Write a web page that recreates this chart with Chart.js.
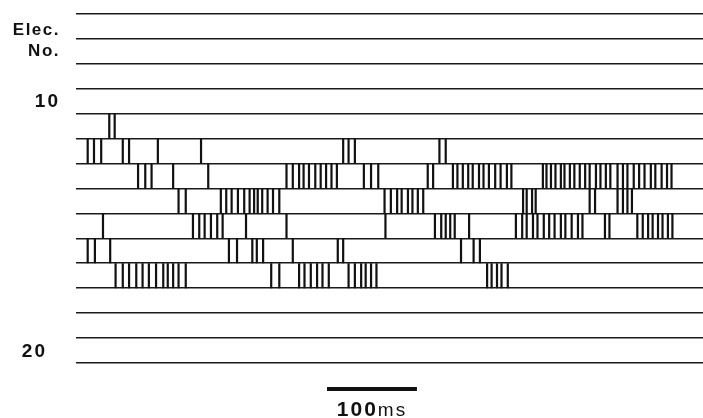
<!DOCTYPE html>
<html>
<head>
<meta charset="utf-8">
<script src="https://cdn.jsdelivr.net/npm/chart.js@4.4.1/dist/chart.umd.min.js"></script>
<style>
html,body{margin:0;padding:0;background:#fff;}
#wrap{width:703px;height:418px;position:relative;}
</style>
</head>
<body>
<div id="wrap"><canvas id="graficoRaster"></canvas></div>
<script>

// =====================================
// DADOS (tempos dos disparos em ms)
// =====================================

const eletrodos = [7,8,9,10,11,12,13,14,15,16,17,18,19,20];

const rotulosEletrodo = {7:"Elec.", 8:"No.", 10:"10", 20:"20"};

const spikes11 = [37, 43];

const spikes12 = [13, 20, 28, 52, 59, 91, 139, 297, 303, 310, 404, 411];

const spikes13 = [69, 77, 84, 108, 147, 234, 241, 248, 253, 259, 266, 272, 278, 284, 290,
    320, 328, 336, 391, 397, 419, 424, 430, 436, 441, 448, 453, 459, 466, 472, 479, 484,
    519, 523, 528, 533, 539, 543, 549, 554, 560, 566, 571, 578, 583, 589, 594,
    602, 608, 613, 620, 626, 632, 639, 644, 651, 657, 662];

const spikes14 = [114, 122, 161, 167, 173, 180, 187, 193, 198, 202, 207, 213, 219, 226,
    343, 350, 357, 362, 369, 374, 380, 386, 497, 501, 507, 511, 571, 577, 602, 608, 613, 618];

const spikes15 = [30, 130, 137, 143, 150, 157, 163, 189, 234, 344, 399, 406, 411, 416, 421, 437,
    489, 496, 501, 508, 513, 520, 526, 532, 539, 544, 551, 558, 563, 588, 593,
    624, 630, 636, 641, 647, 652, 658, 663];

const spikes16 = [13, 21, 38, 170, 179, 196, 201, 208, 241, 291, 297, 428, 442, 449];

const spikes17 = [44, 52, 59, 67, 74, 81, 89, 97, 102, 108, 114, 122, 217, 226,
    248, 254, 261, 268, 274, 281, 303, 310, 317, 322, 328, 334, 457, 462, 468, 473, 480];

const spikesPorEletrodo = {11:spikes11, 12:spikes12, 13:spikes13, 14:spikes14,
    15:spikes15, 16:spikes16, 17:spikes17};

const tempoMax = 697;
const barraInicio = 279;
const barraDuracao = 100;


// =====================================
// SEGMENTOS (um traço vertical por disparo)
// =====================================

function segmentos(tempos, eletrodo){

    const pts = [];

    tempos.forEach(t=>{
        pts.push({x:t, y:eletrodo-0.5});
        pts.push({x:t, y:eletrodo+0.5});
        pts.push({x:t, y:null});
    });

    return pts;

}

const datasets =
Object.keys(spikesPorEletrodo).map(e=>({

    data: segmentos(spikesPorEletrodo[e], Number(e)),
    borderColor:"#111",
    borderWidth:2.2,
    pointRadius:0,
    showLine:true,
    spanGaps:false,
    borderCapStyle:"butt"

}));


// =====================================
// RÓTULOS E BARRA DE ESCALA
// =====================================

const rotulos = {

    id:"rotulos",

    afterDraw(chart){

        const ctx = chart.ctx;
        const x = chart.scales.x;
        const y = chart.scales.y;

        ctx.save();
        ctx.fillStyle = "#111";
        ctx.textBaseline = "middle";
        ctx.textAlign = "right";

        ctx.font = "bold 17px 'Liberation Sans', Arial, sans-serif";
        ctx.letterSpacing = "1.5px";
        ctx.fillText(rotulosEletrodo[7], 60, y.getPixelForValue(7)+4);
        ctx.fillText(rotulosEletrodo[8], 60, y.getPixelForValue(8));

        ctx.font = "bold 19px 'Liberation Sans', Arial, sans-serif";
        ctx.letterSpacing = "2px";
        ctx.fillText(rotulosEletrodo[10], 60, y.getPixelForValue(10)+1);
        ctx.fillText(rotulosEletrodo[20], 47, y.getPixelForValue(20)+1);

        // barra 100 ms
        const x0 = x.getPixelForValue(barraInicio);
        const x1 = x.getPixelForValue(barraInicio+barraDuracao);
        ctx.fillRect(x0, 387, x1-x0, 4);

        ctx.textAlign = "left";
        ctx.textBaseline = "alphabetic";
        ctx.letterSpacing = "2px";
        const fNum = "bold 21px 'Liberation Sans', Arial, sans-serif";
        const fUni = "19px 'Liberation Sans', Arial, sans-serif";
        ctx.font = fNum;
        const w1 = ctx.measureText("100").width;
        ctx.font = fUni;
        const w2 = ctx.measureText("ms").width;
        const xs = (x0+x1)/2 - (w1+w2)/2;
        ctx.font = fNum;
        ctx.fillText("100", xs, 416);
        ctx.font = fUni;
        ctx.fillText("ms", xs+w1, 416);

        ctx.restore();

    }

};


// =====================================
// GRAFICO
// =====================================

new Chart(document.getElementById("graficoRaster"),{

    type:"scatter",

    data:{ datasets },

    options:{

        responsive:true,
        maintainAspectRatio:false,
        animation:false,

        layout:{
            padding:{left:76, top:14, right:0, bottom:55}
        },

        plugins:{
            legend:{display:false},
            tooltip:{enabled:false}
        },

        scales:{

            x:{
                type:"linear",
                min:0,
                max:tempoMax,
                display:false
            },

            y:{
                type:"linear",
                reverse:true,
                min:eletrodos[0]-0.5,
                max:eletrodos[eletrodos.length-1]+0.5,
                afterBuildTicks(axis){
                    axis.ticks = eletrodos.map(e=>({value:e-0.5}))
                        .concat([{value:eletrodos[eletrodos.length-1]+0.5}]);
                },
                ticks:{display:false},
                border:{display:false},
                grid:{
                    color:"#1a1a1a",
                    lineWidth:1.6,
                    drawTicks:false
                }
            }

        }

    },

    plugins:[rotulos]

});

</script>
</body>
</html>
